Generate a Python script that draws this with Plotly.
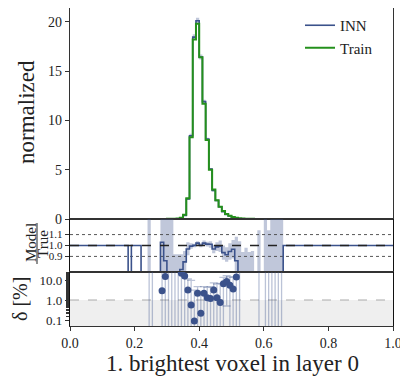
import plotly.graph_objects as go

# ---------------- data (bins of width 0.01, region 0.18 .. 0.66) ----------------
bin_width = 0.01
n_bins = 100
region_start = 18  # first listed bin is [0.18, 0.19)

train = [0.003, 0, 0, 0, 0.003, 0.003, 0.003, 0.005, 0.003, 0.003,
         0.01, 0.012, 0.015, 0.02, 0.03, 0.05, 0.12, 0.42, 2.1, 8.3,
         18.2, 19.8, 16.4, 11.7, 8.0, 5.0, 3.0, 1.9, 1.25, 0.8,
         0.5, 0.32, 0.2, 0.13, 0.08, 0.05, 0.035, 0.025, 0.015, 0.01,
         0.008, 0.006, 0.005, 0.004, 0.003, 0.003, 0.002, 0.002, 0]

inn = [0, 0, 0, 0, 0, 0, 0, 0, 0, 0,
       0.0103, 0.0103, 0.007, 0.01, 0.015, 0.03, 0.094, 0.36, 2.03, 8.45,
       18.45, 20.1, 16.43, 11.9, 8.1, 5.06, 2.9, 1.88, 1.24, 0.75,
       0.46, 0.30, 0.193, 0.112, 0.03, 0.02, 0.015, 0.01, 0.005, 0.003,
       0.006, 0.002, 0.002, 0.003, 0.002, 0.002, 0.001, 0.001, 0]

inn_err = [0, 0, 0, 0, 0, 0, 0, 0, 0, 0,
           0.01, 0.01, 0.01, 0.01, 0.01, 0.01, 0.02, 0.04, 0.1, 0.2,
           0.3, 0.3, 0.25, 0.2, 0.15, 0.12, 0.1, 0.08, 0.06, 0.05,
           0.04, 0.03, 0.02, 0.02, 0.01, 0.01, 0.01, 0.01, 0.01, 0.01,
           0.01, 0.01, 0.01, 0.01, 0.01, 0.01, 0.01, 0.01, 0]

ratio = [0.4, 1, 1, 1, 0.4, 0.4, 0.4, 0.4, 0.4, 0.4,
         1.03, 0.86, 0.4, 0.4, 0.4, 0.4, 0.78, 0.85, 0.968, 0.994,
         1.001, 1.022, 1.002, 1.022, 1.013, 1.012, 0.968, 0.987, 0.9925, 0.935,
         0.915, 0.945, 0.965, 0.86, 0.4, 0.4, 0.4, 0.4, 0.4, 0.4,
         0.4, 0.4, 0.4, 0.4, 0.4, 0.4, 0.4, 0.4, 1]

band_lo = [1, 1, 1, 1, 1, 1, 0.4, 1, 1, 1,
           0.4, 0.4, 0.4, 0.4, 0.4, 0.4, 0.4, 0.4, 0.91, 0.97,
           0.985, 1.0, 0.985, 1.0, 0.99, 0.98, 0.93, 0.95, 0.94, 0.87,
           0.85, 0.87, 0.88, 0.75, 0.4, 0.4, 0.4, 0.4, 0.4, 1,
           0.4, 1, 0.4, 0.4, 0.4, 0.4, 0.4, 0.4, 1]

band_hi = [1, 1, 1, 1, 1, 1, 1.6, 1, 1, 1,
           1.6, 1.6, 1.6, 1.6, 0.92, 0.92, 0.92, 0.95, 1.03, 1.02,
           1.015, 1.04, 1.02, 1.045, 1.035, 1.04, 1.005, 1.03, 1.045, 1.0,
           0.985, 1.02, 1.05, 1.08, 1.04, 0.94, 0.98, 0.94, 0.95, 1,
           1.14, 1, 1.6, 1.14, 1.6, 1.6, 1.6, 1.6, 1]

delta = [None, None, None, None, None, None, 60, 60, None, None,
         2.9, 15, 60, 60, 60, 60, 22, 16, 3.2, 0.57,
         0.09, 2.2, 0.22, 2.2, 1.3, 1.2, 3.2, 1.3, 0.75, 6.5,
         8.5, 5.5, 3.5, 14, 60, None, None, None, None, None,
         60, None, 60, 60, 60, 60, 60, 60, None]

delta_err = [None, None, None, None, None, None, 100, 100, None, None,
             40, 40, 100, 100, 100, 100, 40, 30, 8, 9,
             3, 2.5, 2.5, 2.5, 3, 3.5, 4, 5, 6, 7,
             8, 9, 10, 14, 100, None, None, None, None, None,
             100, None, 100, 100, 100, 100, 100, 100, None]

x_ticks = [0.0, 0.2, 0.4, 0.6, 0.8, 1.0]
x_ticklabels = ["0.0", "0.2", "0.4", "0.6", "0.8", "1.0"]
main_ticks = [0, 5, 10, 15, 20]
ratio_ticks = [0.9, 1.0, 1.1]
ratio_ticklabels = ["0.9", "1.0", "1.1"]
delta_ticks = [0.1, 1, 10]
delta_ticklabels = ["0.1", "1.0", "10.0"]

# ---------------- helpers ----------------
edges = [round(i * bin_width, 2) for i in range(n_bins + 1)]
centers = [round((i + 0.5) * bin_width, 3) for i in range(n_bins)]


def full(region, default):
    out = [default] * n_bins
    for i, v in enumerate(region):
        out[region_start + i] = v
    return out


def step_y(vals):
    return vals + [vals[-1]]


train_f = full(train, 0)
inn_f = full(inn, 0)
inn_err_f = full(inn_err, 0)
inn_lo = [a - b for a, b in zip(inn_f, inn_err_f)]
inn_hi = [a + b for a, b in zip(inn_f, inn_err_f)]
ratio_f = full(ratio, 1)
blo_f = full(band_lo, 1)
bhi_f = full(band_hi, 1)
delta_f = full(delta, None)
derr_f = full(delta_err, None)

BLUE = "#3b528b"
BAND = "rgba(59,82,139,0.32)"
GREEN = "#24901c"
FONT = "Liberation Serif"
FRAME = "#333333"

fig = go.Figure()

# ---- main panel ----
fig.add_trace(go.Scatter(x=edges, y=step_y(inn_lo), mode="lines", line=dict(width=0, shape="hv"),
                         showlegend=False, hoverinfo="skip", xaxis="x", yaxis="y"))
fig.add_trace(go.Scatter(x=edges, y=step_y(inn_hi), mode="lines", line=dict(width=0, shape="hv"),
                         fill="tonexty", fillcolor=BAND, showlegend=False, hoverinfo="skip",
                         xaxis="x", yaxis="y"))
fig.add_trace(go.Scatter(x=edges, y=step_y(inn_f), mode="lines", name="INN",
                         line=dict(color=BLUE, width=1.6, shape="hv"), xaxis="x", yaxis="y"))
fig.add_trace(go.Scatter(x=edges, y=step_y(train_f), mode="lines", name="Train",
                         line=dict(color=GREEN, width=2, shape="hv"), xaxis="x", yaxis="y"))

# ---- ratio panel ----
fig.add_trace(go.Scatter(x=edges, y=step_y(blo_f), mode="lines", line=dict(width=0, shape="hv"),
                         showlegend=False, hoverinfo="skip", xaxis="x2", yaxis="y2"))
fig.add_trace(go.Scatter(x=edges, y=step_y(bhi_f), mode="lines", line=dict(width=0, shape="hv"),
                         fill="tonexty", fillcolor=BAND, showlegend=False, hoverinfo="skip",
                         xaxis="x2", yaxis="y2"))
for yv in (1.1, 0.9):
    fig.add_trace(go.Scatter(x=[0, 1], y=[yv, yv], mode="lines",
                             line=dict(color="#444444", width=0.9, dash="dot"),
                             showlegend=False, hoverinfo="skip", xaxis="x2", yaxis="y2"))
fig.add_trace(go.Scatter(x=edges, y=step_y(ratio_f), mode="lines",
                         line=dict(color=BLUE, width=1.6, shape="hv"),
                         showlegend=False, xaxis="x2", yaxis="y2"))
fig.add_trace(go.Scatter(x=[0, 1], y=[1, 1], mode="lines",
                         line=dict(color="#222222", width=1.3, dash="dash"),
                         showlegend=False, hoverinfo="skip", xaxis="x2", yaxis="y2"))

# ---- delta panel ----
fig.add_trace(go.Scatter(x=[0, 1, 1, 0, 0], y=[0.001, 0.001, 1, 1, 0.001], mode="lines",
                         fill="toself", fillcolor="#efefef", line=dict(width=0),
                         showlegend=False, hoverinfo="skip", xaxis="x3", yaxis="y3"))
fig.add_trace(go.Scatter(x=[0, 1], y=[1, 1], mode="lines",
                         line=dict(color="#aaaaaa", width=1, dash="dash"),
                         showlegend=False, hoverinfo="skip", xaxis="x3", yaxis="y3"))
dx, dy, de = [], [], []
for c, d, e in zip(centers, delta_f, derr_f):
    if d is not None:
        dx.append(c)
        dy.append(d)
        de.append(e)
fig.add_trace(go.Scatter(x=dx, y=dy, mode="markers",
                         marker=dict(color=BLUE, size=7),
                         error_y=dict(type="data", array=de, arrayminus=de, visible=True,
                                      color="rgba(59,82,139,0.35)", thickness=1.3, width=4),
                         showlegend=False, xaxis="x3", yaxis="y3"))

# ---------------- layout ----------------
# the page adds an 8 px body margin; the geometry below compensates for it
PLOT_H = 318
d_delta = [0, 54 / PLOT_H]
d_ratio = [54 / PLOT_H, 107 / PLOT_H]
d_main = [107 / PLOT_H, 1]

ax_common = dict(showline=True, mirror=True, linecolor=FRAME, linewidth=1.4,
                 showgrid=False, zeroline=False, range=[0, 1])
tick_font = dict(family=FONT, size=14, color="#222222")
small_tick_font = dict(family=FONT, size=13, color="#222222")
ratio_tick_font = dict(family=FONT, size=11, color="#222222")

fig.update_layout(
    width=400, height=373,
    margin=dict(l=62, r=15, t=0, b=55),
    paper_bgcolor="white", plot_bgcolor="white",
    font=dict(family=FONT, color="#222222"),
    xaxis=dict(**ax_common, anchor="y", domain=[0, 1], showticklabels=False, ticks="", matches="x3"),
    xaxis2=dict(**ax_common, anchor="y2", domain=[0, 1], showticklabels=False, ticks="", matches="x3"),
    xaxis3=dict(**ax_common, anchor="y3", domain=[0, 1], tickvals=x_ticks, ticktext=x_ticklabels,
                ticks="outside", ticklen=4, tickcolor=FRAME, tickfont=tick_font),
    yaxis=dict(showline=True, mirror=True, linecolor=FRAME, linewidth=1.4, showgrid=False,
               zeroline=False, domain=d_main, anchor="x", range=[0, 21.4], tickvals=main_ticks,
               ticks="outside", ticklen=4, tickcolor=FRAME, tickfont=tick_font),
    yaxis2=dict(showline=True, mirror=True, linecolor="#111111", linewidth=1.4, showgrid=False,
                zeroline=False, domain=d_ratio, anchor="x2", range=[0.757, 1.243],
                tickvals=ratio_ticks, ticktext=ratio_ticklabels,
                ticks="outside", ticklen=4, tickcolor=FRAME, tickfont=ratio_tick_font),
    yaxis3=dict(showline=True, mirror=True, linecolor="#111111", linewidth=1.4, showgrid=False,
                zeroline=False, domain=d_delta, anchor="x3", type="log", range=[-1.3, 1.4],
                tickvals=delta_ticks, ticktext=delta_ticklabels,
                ticks="outside", ticklen=4, tickcolor=FRAME, tickfont=small_tick_font,
                minor=dict(ticks="outside", ticklen=2.5, tickcolor=FRAME, showgrid=False)),
    legend=dict(x=(300 - 70) / 323, y=(326 - 9) / PLOT_H, xanchor="left", yanchor="top",
                bgcolor="rgba(0,0,0,0)", traceorder="normal",
                font=dict(family=FONT, size=15), itemwidth=30, tracegroupgap=0),
)


def px2paper(px, py):
    """reference-picture pixel -> paper coordinates"""
    return (px - 70) / 323, (326 - py) / PLOT_H


annos = []
x, y = px2paper(26, 112)
annos.append(dict(x=x, y=y, text="normalized", textangle=-90, font=dict(family=FONT, size=23)))
x, y = px2paper(31, 243)
annos.append(dict(x=x, y=y, text="Model", textangle=-90, font=dict(family=FONT, size=15)))
x, y = px2paper(43, 244)
annos.append(dict(x=x, y=y, text="True", textangle=-90, font=dict(family=FONT, size=15)))
x, y = px2paper(20, 299)
annos.append(dict(x=x, y=y, text="δ [%]", textangle=-90, font=dict(family=FONT, size=20)))
x, y = px2paper(232, 363)
annos.append(dict(x=x, y=y, text="1. brightest voxel in layer 0", font=dict(family=FONT, size=23)))
for a in annos:
    a.update(xref="paper", yref="paper", showarrow=False, xanchor="center", yanchor="middle")
fig.update_layout(annotations=annos)

lx, ly0 = px2paper(37, 223)
_, ly1 = px2paper(37, 264)
fig.add_shape(type="line", xref="paper", yref="paper", x0=lx, x1=lx, y0=ly0, y1=ly1,
              line=dict(color="#222222", width=1))

fig.write_html("out.html")
